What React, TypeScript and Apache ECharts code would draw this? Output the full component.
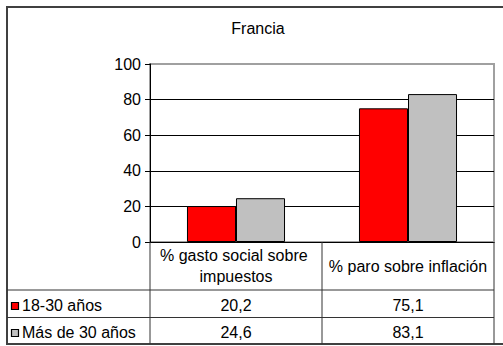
import React, { useEffect, useRef } from "react";
import * as echarts from "echarts";

const title = "Francia";
const categories = ["% gasto social sobre impuestos", "% paro sobre inflación"];
const seriesNames = ["18-30 años", "Más de 30 años"];
const youngValues = [20.2, 75.1];
const olderValues = [24.6, 83.1];
const seriesColors = ["#FF0000", "#C0C0C0"];
const yMin = 0;
const yMax = 100;
const yInterval = 20;

const FONT = "'Liberation Sans', Arial, sans-serif";
const FS = 16;

const fmt = (v: number) => v.toFixed(1).replace(".", ",");

export default function App() {
  const ref = useRef<HTMLDivElement>(null);
  useEffect(() => {
    if (!ref.current) return;
    const chart = echarts.init(ref.current, null, { renderer: "svg" });
    const gridLeft = 150, gridTop = 64, gridRight = 9, gridBottom = 104;
    chart.setOption({
      animation: false,
      backgroundColor: "#fff",
      textStyle: { fontFamily: FONT },
      grid: {
        left: gridLeft, top: gridTop, right: gridRight, bottom: gridBottom,
        show: true, borderColor: "#a0a0a0", borderWidth: 2, backgroundColor: "#fff",
        containLabel: false, outerBoundsMode: "none",
      },
      xAxis: {
        type: "category",
        data: categories,
        axisLine: { lineStyle: { color: "#000", width: 1 } },
        axisTick: { show: false },
        axisLabel: {
          interval: 0,
          margin: 24,
          verticalAlign: "middle",
          width: 166,
          overflow: "break",
          lineHeight: 21,
          fontSize: FS,
          fontFamily: FONT,
          color: "#000",
          align: "center",
        },
      },
      yAxis: {
        type: "value",
        min: yMin, max: yMax, interval: yInterval,
        axisLine: { show: true, lineStyle: { color: "#000", width: 1 } },
        axisTick: { show: true, length: 5, lineStyle: { color: "#000" } },
        axisLabel: { margin: 9, fontSize: FS, fontFamily: FONT, color: "#000" },
        splitLine: { show: true, showMaxLine: false, showMinLine: false, lineStyle: { color: "#000", width: 1 } },
      },
      series: [
        {
          name: seriesNames[0], type: "bar", data: youngValues,
          barGap: "0%", barCategoryGap: "43%",
          itemStyle: { color: seriesColors[0], borderColor: "#000", borderWidth: 1 },
        },
        {
          name: seriesNames[1], type: "bar", data: olderValues,
          barGap: "0%", barCategoryGap: "43%",
          itemStyle: { color: seriesColors[1], borderColor: "#000", borderWidth: 1 },
        },
      ],
    });

    const centers = categories.map((c) => chart.convertToPixel({ xAxisIndex: 0 }, c) as number);
    const xLeft = gridLeft;
    const xRight = 503 - gridRight;
    const xMid = (centers[0] + centers[1]) / 2;
    const yAxis0 = 346 - gridBottom;
    const row1Top = 290, row2Top = 317.5, tableBottom = 344;
    const lineColor = "#333";
    const rowsData = [youngValues, olderValues];
    const rowCenters = [305.5, 332.5];

    const graphic: any[] = [
      {
        type: "text", x: 258, y: 28,
        style: { text: title, fontSize: FS, fontFamily: FONT, fill: "#000", align: "center", verticalAlign: "middle" }, z: 100,
      },
      // outer frame
      { type: "rect", shape: { x: 7, y: 7, width: 520, height: tableBottom - 7 }, style: { fill: "none", stroke: "#404040", lineWidth: 2 }, z: 100 },
      { type: "line", shape: { x1: 7, y1: row1Top, x2: xRight, y2: row1Top }, style: { stroke: lineColor, lineWidth: 1 }, z: 100 },
      { type: "line", shape: { x1: 7, y1: row2Top, x2: xRight, y2: row2Top }, style: { stroke: lineColor, lineWidth: 1 }, z: 100 },
      { type: "line", shape: { x1: xLeft, y1: yAxis0, x2: xLeft, y2: tableBottom }, style: { stroke: lineColor, lineWidth: 1 }, z: 100 },
      { type: "line", shape: { x1: xMid, y1: yAxis0, x2: xMid, y2: tableBottom }, style: { stroke: lineColor, lineWidth: 1 }, z: 100 },
      { type: "line", shape: { x1: xRight, y1: yAxis0, x2: xRight, y2: tableBottom }, style: { stroke: lineColor, lineWidth: 1 }, z: 100 },
    ];
    rowsData.forEach((vals, r) => {
      const cy = rowCenters[r];
      graphic.push({
        type: "rect", shape: { x: 11.5, y: cy - 3, width: 7, height: 7 },
        style: { fill: seriesColors[r], stroke: "#000", lineWidth: 1.2 }, z: 100,
      });
      graphic.push({
        type: "text", x: 22, y: cy,
        style: { text: seriesNames[r], fontSize: FS, fontFamily: FONT, fill: "#000", verticalAlign: "middle", align: "left" }, z: 100,
      });
      vals.forEach((v, i) => {
        graphic.push({
          type: "text", x: centers[i], y: cy,
          style: { text: fmt(v), fontSize: FS, fontFamily: FONT, fill: "#000", verticalAlign: "middle", align: "center" }, z: 100,
        });
      });
    });
    chart.setOption({ graphic });
    return () => chart.dispose();
  }, []);
  return (
    <div
      ref={ref}
      style={{ position: "fixed", left: 0, top: 0, width: 503, height: 346, background: "#fff" }}
    />
  );
}
